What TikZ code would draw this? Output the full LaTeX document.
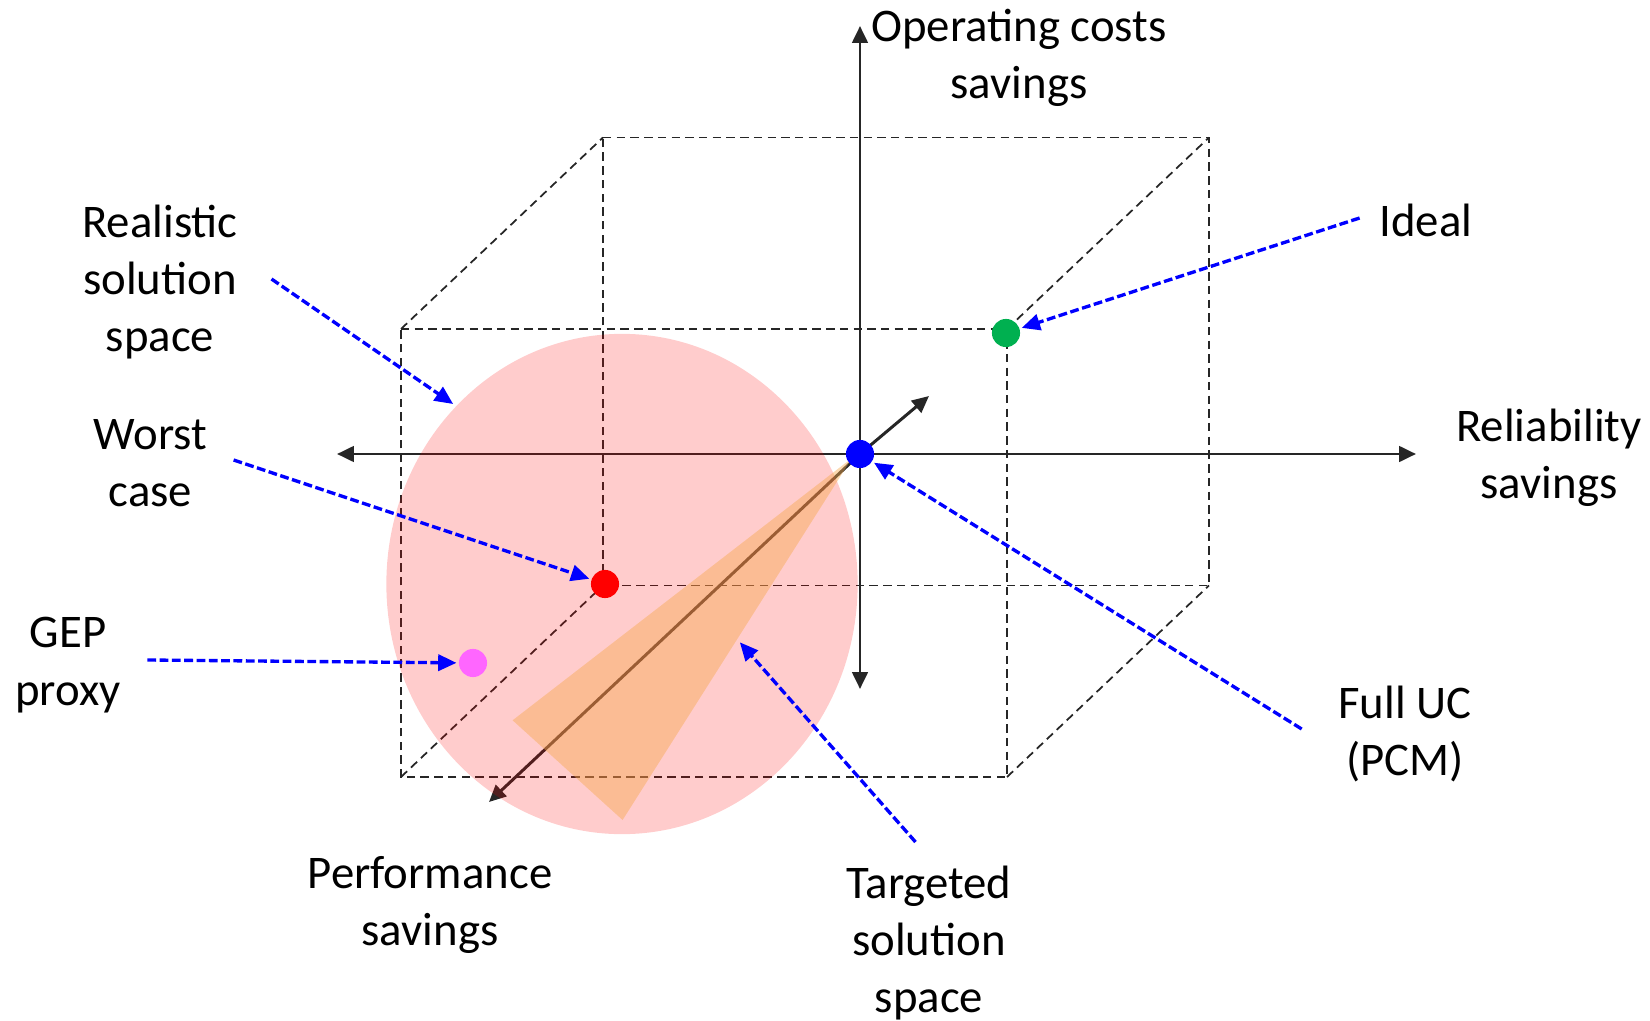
\documentclass[tikz,border=0pt]{standalone}
\usepackage{fontspec}
\setmainfont{Carlito}
\usetikzlibrary{arrows.meta}
\definecolor{axisgray}{RGB}{38,38,38}
\definecolor{ptgreen}{RGB}{0,176,80}
\definecolor{ptpink}{RGB}{255,102,255}
\definecolor{coneorange}{RGB}{247,170,80}
\begin{document}
\begin{tikzpicture}[x=0.01cm, y=-0.01cm,
  cubeedge/.style={draw=axisgray, line width=0.5pt, dash pattern=on 2.4pt off 1.5pt},
  axis/.style={draw=axisgray, line width=0.85pt, -{Triangle[length=4.8pt,width=4.4pt]}},
  pointer/.style={draw=blue, line width=0.95pt, dash pattern=on 2.5pt off 1pt,
    -{Triangle[length=5.2pt,width=4.6pt]}, shorten >=0.5pt},
  dot/.style={circle, inner sep=0pt, minimum size=8pt},
  label/.style={align=center, font=\fontsize{13.3pt}{16.3pt}\selectfont, inner sep=0pt}]

\useasboundingbox (0,0) rectangle (1650,1021);

% cube corners: front face (f) and back face (b)
\coordinate (ftl) at (401,329);  \coordinate (ftr) at (1007,329);
\coordinate (fbl) at (401,777);  \coordinate (fbr) at (1007,777);
\coordinate (btl) at (603,137.5); \coordinate (btr) at (1209,137.5);
\coordinate (bbl) at (603,585.5); \coordinate (bbr) at (1209,585.5);

% dashed cube
\path[cubeedge] (ftl) -- (ftr) -- (fbr) -- (fbl) -- cycle;
\path[cubeedge] (btl) -- (btr) -- (bbr) -- (bbl) -- cycle;
\path[cubeedge] (ftl) -- (btl);
\path[cubeedge] (ftr) -- (btr);
\path[cubeedge] (fbl) -- (bbl);
\path[cubeedge] (fbr) -- (bbr);

% axes
\coordinate (O) at (860,454);
\coordinate (up) at (860,26);
\coordinate (down) at (860,689);
\coordinate (left) at (337,454);
\coordinate (right) at (1416,454);
\coordinate (back) at (929,396);
\coordinate (front) at (489,802);
\path[axis] (O) -- (up);
\path[axis] (O) -- (down);
\path[axis] (O) -- (left);
\path[axis] (O) -- (right);
\path[axis] (O) -- (back);
\path[axis] (O) -- (front);

% realistic solution space
\fill[red, opacity=0.2] (622,584) ellipse [x radius=2.355cm, y radius=2.5cm];

% targeted solution space
\coordinate (tA) at (852,458);
\coordinate (tB) at (512.6,720.3);
\coordinate (tC) at (622.6,820);
\fill[coneorange, opacity=0.45] (tA) -- (tB) -- (tC) -- cycle;

% points
\node[dot, fill=blue] (full) at (O) {};
\node[dot, fill=ptgreen] (ideal) at (1006,333) {};
\node[dot, fill=red] (worst) at (605,584) {};
\node[dot, fill=ptpink] (gep) at (473,663) {};

% labels
\node[label] (lops) at (1019,58) {Operating costs\\savings};
\node[label] (lrel) at (1549,458) {Reliability\\savings};
\node[label] (lperf) at (430,905) {Performance\\savings};
\node[label] (lideal) at (1426,220) {Ideal};
\node[label] (lreal) at (160,282) {Realistic\\solution\\space};
\node[label] (lworst) at (150.5,463) {Worst\\case};
\node[label] (lgep) at (68,665) {GEP\\proxy};
\node[label] (lfull) at (1405,734) {Full UC\\(PCM)};
\node[label] (ltarget) at (929,943) {Targeted\\solution\\space};

% pointer start and end points
\coordinate (sreal) at (271.5,279);
\coordinate (ereal) at (454.6,405);
\coordinate (sworst) at (233.6,460);
\coordinate (sgep) at (147.3,660);
\coordinate (sideal) at (1359.6,218);
\coordinate (sfull) at (1301.7,729);
\coordinate (starget) at (915.5,842);
\coordinate (etarget) at (738.7,641);

\path[pointer] (sreal) -- (ereal);
\path[pointer] (sworst) -- (worst);
\path[pointer] (sgep) -- (gep);
\path[pointer] (sideal) -- (ideal);
\path[pointer] (sfull) -- (full);
\path[pointer] (starget) -- (etarget);

\end{tikzpicture}
\end{document}
